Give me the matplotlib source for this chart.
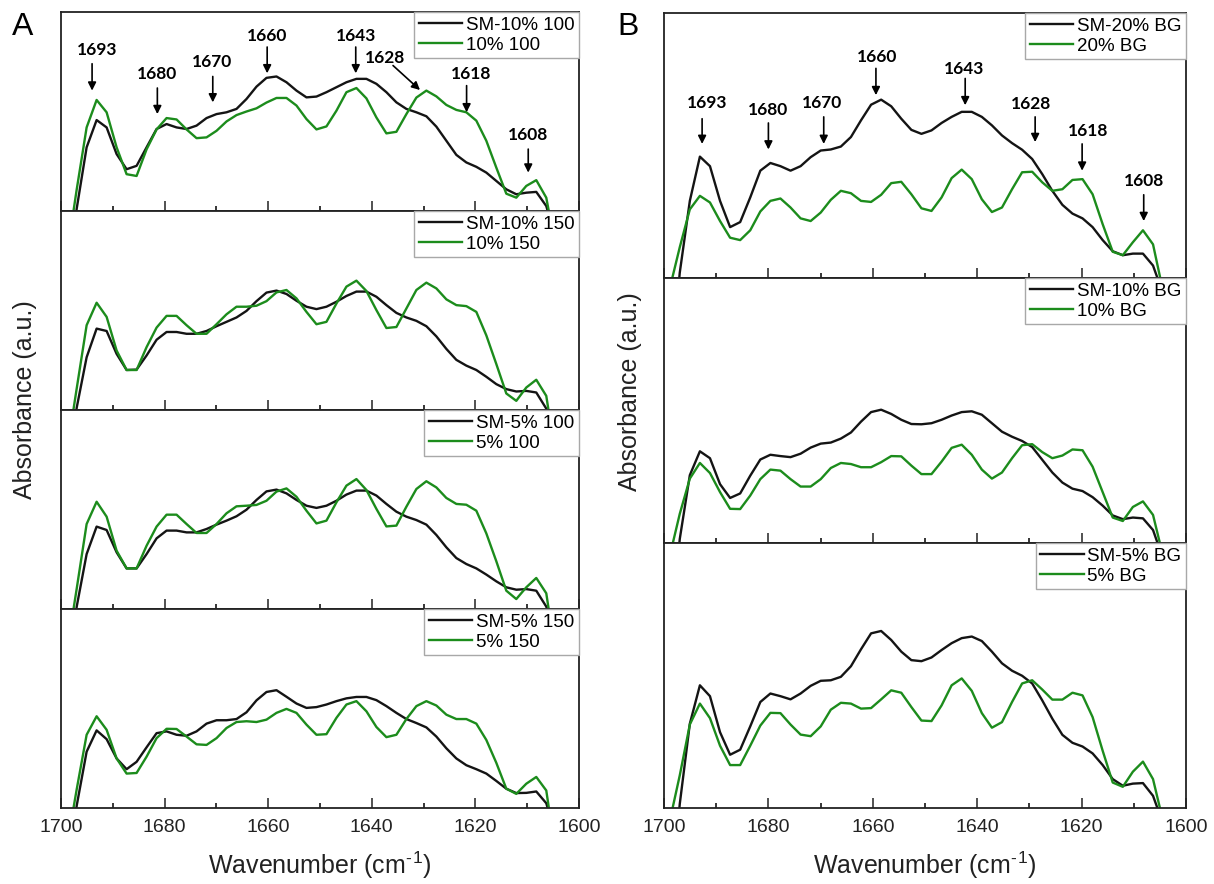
import numpy as np
import matplotlib
matplotlib.use("Agg")
import matplotlib.pyplot as plt
from matplotlib.ticker import MultipleLocator

plt.rcParams['font.family'] = ['Liberation Sans', 'DejaVu Sans']
plt.rcParams['mathtext.default'] = 'regular'

# FTIR sampling grid of the amide I region (cm-1)
wavenumber = 1698.91 - 1.929 * np.arange(50)

# ---- Panel A: SM vs. plain films at two temperatures ----
sm10_100 = [-60, 1, 32, 45.7, 42, 28.6, 21, 22.7, 32, 41.2, 43.7, 42,
            41.2, 42.9, 46.7, 48.7, 49.6, 51.3, 56.3, 62.5, 66.9, 67.6,
            64.7, 60.5, 57.1, 57.5, 59.7, 62.2, 64.7, 66.4, 66.4, 63.9,
            59.7, 54.6, 51.3, 49.6, 47.6, 42.4, 35.3, 28.2, 24.4, 22.2,
            19.3, 15.1, 10.9, 8.4, 9.2, 9.6, 2.5, -15]
p10_100 = [-23, 10.6, 42, 55.8, 49.6, 32, 18.5, 17.6, 31, 41, 46.7, 46,
           41, 36.6, 37, 40.3, 45, 48.2, 50, 51.6, 54.5, 56.8,
           56.8, 53, 46.2, 41, 42.5, 50.4, 59.7, 61.8, 56.6, 47,
           39, 39.8, 48.7, 57, 60.5, 57.6, 53.3, 50.8, 49.6, 45.4,
           35.3, 21.8, 8.7, 6.7, 12.6, 15.5, 6.7, -20]
sm10_150 = [-60, 1, 26.5, 40.9, 39.7, 28.2, 20.1, 20.3, 27.4, 35.3, 39.2, 39.2,
            38.3, 38.3, 39.7, 42.1, 44.3, 46.5, 49.8, 54.7, 59, 60,
            58.3, 54.9, 51.9, 50.7, 51.9, 54.4, 57.3, 59.5, 59.5, 56.9,
            52.7, 48.8, 46.5, 44.8, 42.1, 37, 30.7, 25.2, 22.3, 20.1,
            16.7, 13, 10.5, 9.3, 9.6, 8.8, 0.7, -15]
p10_150 = [-22, 10.6, 42.6, 53.9, 46.8, 29.9, 20.1, 20.1, 31.6, 41.4, 47.3, 47.3,
           42.6, 38.3, 38.3, 43.1, 48.1, 51.9, 51.9, 52.4, 54.7, 59.1,
           60.3, 56.1, 49.3, 43.1, 44.3, 53.5, 62, 65, 59.8, 50.2,
           41.2, 41.7, 51, 60.3, 64, 61.1, 55.6, 52.7, 52.2, 49.3,
           37.5, 23.1, 8.3, 4.6, 11.3, 15.2, 7.1, -25]
sm5_100 = [-60, 1, 27.6, 41.4, 39.7, 28.5, 20.4, 20.4, 27.6, 35.5, 39.4, 39.4,
           38.5, 38.5, 40.2, 42.4, 44.4, 46.6, 49.9, 54.8, 59.1, 60,
           58.1, 54.8, 51.9, 50.8, 51.9, 54.4, 57.5, 59.5, 59.5, 57,
           52.8, 48.9, 46.4, 44.7, 42.4, 37.2, 31, 25.6, 22.6, 20.4,
           17.3, 13.9, 10.9, 9.7, 10, 9.2, 1.2, -15]
p5_100 = [-22, 10, 42.7, 53.9, 46.4, 29.3, 20.4, 20.4, 31.8, 41.4, 47.4, 47.4,
          42.7, 38.2, 38.2, 42.7, 48.1, 51.6, 51.9, 52.3, 54.4, 59,
          60.6, 56.4, 49.4, 43, 44.4, 53.6, 62, 65.3, 59.8, 50.3,
          41.5, 41.9, 51.4, 60.3, 64.2, 61.1, 55.8, 52.8, 52.4, 49.4,
          38, 24, 9.2, 5, 10.9, 15.6, 7.9, -25]
sm5_150 = [-60, 1, 28.3, 39, 34.6, 24.9, 19.5, 23.2, 30.5, 37.6, 38.5, 36.8,
           36.3, 38.5, 42.4, 44.1, 44.1, 44.7, 48.1, 54.1, 58.3, 59.2,
           55.9, 52.5, 50.3, 50.7, 52, 53.7, 55.1, 55.8, 55.8, 54.2,
           51.2, 47.8, 44.7, 42.7, 40.5, 35.9, 30, 24.9, 21.5, 19.5,
           17.3, 13.6, 9.7, 7.5, 7.6, 8.3, 2.4, -15]
p5_150 = [-20, 9.2, 36.8, 46.1, 39.3, 24.9, 17.3, 17.6, 25.8, 35.1, 39.8, 39.7,
          35.9, 32, 31.7, 35.1, 40.2, 43.2, 43.6, 43.2, 44.4, 47.8,
          49.8, 47.8, 41.9, 36.8, 37.1, 45.3, 52, 53.7, 48.6, 40.7,
          35.6, 36.8, 44.7, 51.2, 53.7, 51.5, 46.9, 44.7, 44.7, 42.4,
          34.2, 22.7, 9.7, 7.1, 12.2, 15.6, 8.8, -25]

# ---- Panel B: SM vs. plain films with BG ----
sm20_bg = [-40, 2, 29.1, 45.8, 42.2, 29.1, 19.2, 21.1, 30.4, 40.5, 43.4, 42.2,
           40.5, 42.2, 45.6, 48.1, 48.5, 49.6, 53.2, 59.5, 65.4, 67.3,
           64.8, 60.1, 55.9, 54.4, 55.7, 58.5, 60.8, 62.7, 62.7, 60.8,
           57.6, 53.8, 50.9, 48.4, 44.9, 39.2, 32.9, 27.6, 24.3, 22.5,
           19.2, 14.3, 10.1, 8.6, 9.2, 9.2, 4.7, -6]
p20_bg = [-4, 11.6, 25.9, 31, 28.5, 21.5, 15.2, 14.3, 18, 25.1, 29.1, 30,
          26.6, 22.5, 21.5, 24.7, 29.5, 32.9, 32, 29.1, 28.7, 31.4,
          35.8, 36.3, 31.6, 26.3, 25.3, 30.4, 37.7, 40.9, 37.3, 29.7,
          24.9, 26.6, 33.5, 39.9, 40.1, 36.1, 32.9, 33.5, 37, 37.3,
          31.6, 20.3, 9.9, 8.6, 13.5, 18, 12.7, -5]
sm10_bg = [-40, 1.5, 25.6, 34.6, 32, 22.2, 17, 18.7, 25.4, 31.5, 33.3, 32.8,
           32.4, 33.7, 36, 37.5, 37.9, 39.4, 41.7, 45.8, 49.4, 50.3,
           48.7, 46.5, 44.9, 44.8, 45.2, 46.5, 48.1, 49.4, 49.7, 48.4,
           45.2, 42, 40.1, 38.5, 36.2, 31.4, 26.6, 22.8, 20.5, 19.6,
           17.3, 14.1, 10.4, 9, 9.6, 9.3, 4.9, -6]
p10_bg = [-5, 11, 24.3, 30.2, 26.4, 19.2, 12.9, 12.8, 17.9, 24.1, 27.7, 27.3,
          24.1, 21.3, 21.3, 24.1, 28.3, 30.2, 29.8, 28.6, 28.6, 30.5,
          32.8, 32.7, 29.2, 26, 26, 30.7, 35.9, 37.1, 33.3, 27.7,
          24.3, 26.6, 32, 36.9, 37.3, 34.3, 32, 33, 35.3, 35,
          28.8, 19.2, 9.6, 8.3, 13.6, 15.7, 10.6, -5]
sm5_bg = [-40, 1.5, 31.8, 46.3, 42.2, 28.6, 20.1, 22, 30.8, 40, 43.2, 42.2,
          41, 43.2, 46.1, 48, 48.2, 49.5, 53.5, 59.9, 65.9, 66.8,
          63.4, 59, 55.8, 55.4, 56.8, 59.6, 62.2, 64.1, 64.7, 63,
          59, 54.6, 51.8, 49.9, 47, 40.6, 33.7, 27.6, 24.6, 23.2,
          20.6, 16.2, 10.9, 8.4, 9.2, 9.4, 4.6, -6]
p5_bg = [-5, 12.3, 31.5, 39.4, 33.9, 23.5, 16.2, 16.2, 23.5, 31.1, 35.9, 35.8,
         31.5, 27.7, 27.1, 30.8, 37.1, 39.7, 39.4, 37.5, 37.7, 41,
         44.4, 43.5, 38.1, 33, 32.8, 38.7, 46.3, 48.9, 44.2, 35.8,
         30.3, 32.4, 40, 47, 48.2, 44.7, 40.9, 40.9, 43.5, 42.5,
         34.3, 21.6, 9.6, 8, 13.7, 17.5, 10.9, -5]

labels_a = [("SM-10% 100", "10% 100"), ("SM-10% 150", "10% 150"),
            ("SM-5% 100", "5% 100"), ("SM-5% 150", "5% 150")]
labels_b = [("SM-20% BG", "20% BG"), ("SM-10% BG", "10% BG"),
            ("SM-5% BG", "5% BG")]
series_a = [(sm10_100, p10_100), (sm10_150, p10_150),
            (sm5_100, p5_100), (sm5_150, p5_150)]
series_b = [(sm20_bg, p20_bg), (sm10_bg, p10_bg), (sm5_bg, p5_bg)]

band_labels = ["1693", "1680", "1670", "1660", "1643", "1628", "1618", "1608"]
# (text x, text y, arrow tail x, tail y, head x, head y)
marks_a = [(1693.1, 81, 1694.0, 74, 1694.0, 60.5),
           (1681.4, 68.6, 1681.4, 61.8, 1681.4, 48.7),
           (1670.9, 74.8, 1670.7, 67.6, 1670.7, 54.6),
           (1660.2, 87.7, 1660.2, 82.4, 1660.2, 69.2),
           (1643.1, 87.7, 1643.1, 82.4, 1643.1, 69.2),
           (1637.5, 77, 1635.9, 73.1, 1630.7, 60.8),
           (1620.8, 68.9, 1621.7, 63, 1621.7, 49.6),
           (1609.8, 38.3, 1609.8, 31.1, 1609.8, 19.3)]
marks_b = [(1691.8, 66, 1692.7, 60.1, 1692.7, 50.6),
           (1680.0, 63.3, 1680.0, 58.5, 1680.0, 48.5),
           (1669.7, 66, 1669.4, 60.8, 1669.4, 50.6),
           (1659.1, 83.3, 1659.4, 79.1, 1659.4, 69),
           (1642.5, 78.9, 1642.3, 75.3, 1642.3, 65.2),
           (1629.6, 65.6, 1628.9, 60.8, 1628.9, 51.3),
           (1618.8, 55.4, 1619.9, 50.6, 1619.9, 40.5),
           (1608.1, 36.5, 1608.1, 31.4, 1608.1, 21.5)]

BLACK = '#141414'
GREEN = '#1c8c1c'
W, H = 1214, 884

fig = plt.figure(figsize=(W / 100, H / 100), dpi=100)


def column(left, right, top, bottom, n):
    h = (bottom - top) / n
    axes = []
    for i in range(n):
        y_bot = top + (i + 1) * h
        ax = fig.add_axes([left / W, 1 - y_bot / H, (right - left) / W, h / H])
        axes.append(ax)
    return axes


def style(ax, is_bottom):
    ax.set_xlim(1700, 1600)
    ax.set_ylim(0, 100)
    ax.set_yticks([])
    ax.xaxis.set_major_locator(MultipleLocator(20))
    ax.xaxis.set_minor_locator(MultipleLocator(10))
    ax.tick_params(axis='x', which='major', direction='in', length=7,
                   width=1.1, labelsize=14, pad=8, top=False,
                   labelbottom=is_bottom, colors='#222222')
    ax.tick_params(axis='x', which='minor', direction='in', length=3.5,
                   width=1.1, top=False)
    for sp in ax.spines.values():
        sp.set_linewidth(1.3)
        sp.set_color('#222222')
    if is_bottom:
        ax.set_xlabel('Wavenumber (cm$^{\u2010}$$^{1}$)', fontsize=18,
                      labelpad=10, color='#222222')


def draw(axes, series, labels):
    for k, (ax, (sm, plain), (lab_sm, lab_p)) in enumerate(zip(axes, series, labels)):
        ax.plot(wavenumber, sm, color=BLACK, lw=1.7, label=lab_sm)
        ax.plot(wavenumber, plain, color=GREEN, lw=1.7, label=lab_p)
        leg = ax.legend(loc='upper right', borderaxespad=0, fancybox=False,
                        edgecolor='#a8a8a8', framealpha=1, fontsize=13.5,
                        handlelength=2.3, handletextpad=0.2, borderpad=0.25,
                        labelspacing=0.15)
        leg.get_frame().set_linewidth(1.0)
        style(ax, k == len(axes) - 1)


def annotate_bands(ax, marks):
    for text, (tx, ty, ax0, ay0, ax1, ay1) in zip(band_labels, marks):
        ax.text(tx, ty, text, ha='center', va='center', fontsize=12.5,
                fontweight='bold', family=['Lato', 'DejaVu Sans'])
        ax.annotate('', xy=(ax1, ay1), xytext=(ax0, ay0),
                    arrowprops=dict(arrowstyle='-|>', color='black', lw=1.2,
                                    mutation_scale=12, shrinkA=0, shrinkB=0))


axes_a = column(61, 579, 12, 808, 4)
axes_b = column(664, 1186, 13, 808, 3)
draw(axes_a, series_a, labels_a)
draw(axes_b, series_b, labels_b)
annotate_bands(axes_a[0], marks_a)
annotate_bands(axes_b[0], marks_b)

fig.text(25 / W, 1 - 400 / H, 'Absorbance (a.u.)', rotation=90,
         ha='center', va='center', fontsize=18, color='#222222')
fig.text(630 / W, 1 - 392 / H, 'Absorbance (a.u.)', rotation=90,
         ha='center', va='center', fontsize=18, color='#222222')
fig.text(23 / W, 1 - 27 / H, 'A', ha='center', va='center', fontsize=23)
fig.text(628 / W, 1 - 27 / H, 'B', ha='center', va='center', fontsize=23)

fig.savefig('out.png', dpi=100, facecolor='white')
